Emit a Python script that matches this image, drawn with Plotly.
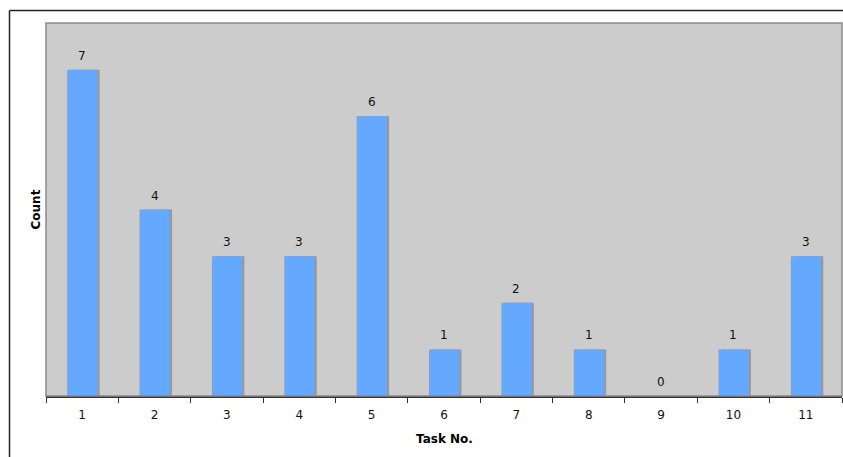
import plotly.graph_objects as go

# Task counts
tasks = ["1", "2", "3", "4", "5", "6", "7", "8", "9", "10", "11"]
counts = [7, 4, 3, 3, 6, 1, 2, 1, 0, 1, 3]

BAR_COLOR = "#64A9FF"
SHADOW_COLOR = "#999999"
PLOT_BG = "#CCCCCC"
FONT = "DejaVu Sans"

W, H = 843, 457
ML, MR, MT, MB = 46, 1, 23, 61
plot_w = W - ML - MR
plot_h = H - MT - MB

bar_w = 0.414
shadow_dx = 2.5 / (plot_w / len(tasks))

fig = go.Figure()

# drop shadow behind each bar
fig.add_trace(go.Bar(
    x=tasks, y=counts,
    width=bar_w, offset=-bar_w / 2 + shadow_dx,
    marker=dict(color=SHADOW_COLOR, line=dict(width=0)),
    hoverinfo="skip", showlegend=False,
))
fig.add_trace(go.Bar(
    x=tasks, y=counts,
    width=bar_w, offset=-bar_w / 2,
    marker=dict(color=BAR_COLOR, line=dict(width=0)),
    showlegend=False,
))

# value labels above the bars (category axis: position by index)
annotations = [
    dict(x=i, y=c, xref="x", yref="y", text=str(c), showarrow=False,
         yshift=14, font=dict(family=FONT, size=12, color="#111111"))
    for i, c in enumerate(counts)
]

# axis titles
annotations.append(dict(
    x=0.5, y=-(439 - (MT + plot_h)) / plot_h, xref="paper", yref="paper",
    text="<b>Task No.</b>", showarrow=False,
    font=dict(family=FONT, size=12, color="#000000"),
    xanchor="center", yanchor="middle",
))
annotations.append(dict(
    x=-(ML - 35) / plot_w, y=0.5, xref="paper", yref="paper",
    text="<b>Count</b>", showarrow=False, textangle=-90,
    font=dict(family=FONT, size=12, color="#000000"),
    xanchor="center", yanchor="middle",
))

def px_x(p):
    return (p - ML) / plot_w

def px_y(p):
    return (MT + plot_h - p) / plot_h

shapes = [
    # plot area frame
    dict(type="rect", xref="paper", yref="paper", x0=0, x1=1, y0=0, y1=1,
         line=dict(color="#8A8A8A", width=1.5), layer="above"),
    # outer frame (top and left edges)
    dict(type="line", xref="paper", yref="paper",
         x0=px_x(9.5), x1=px_x(W + 5), y0=px_y(10.5), y1=px_y(10.5),
         line=dict(color="#222222", width=1.5)),
    dict(type="line", xref="paper", yref="paper",
         x0=px_x(9.5), x1=px_x(9.5), y0=px_y(10.5), y1=px_y(H + 5),
         line=dict(color="#222222", width=1.5)),
]

fig.update_layout(
    width=W, height=H,
    margin=dict(l=ML, r=MR, t=MT, b=MB, pad=0),
    paper_bgcolor="white",
    plot_bgcolor=PLOT_BG,
    barmode="overlay",
    annotations=annotations,
    shapes=shapes,
    font=dict(family=FONT, size=12, color="#111111"),
)
fig.update_xaxes(
    type="category",
    range=[-0.5, len(tasks) - 0.5],
    tickson="boundaries",
    ticks="outside", ticklen=5, tickcolor="#333333", tickwidth=1,
    showline=True, linecolor="#333333", linewidth=1.5,
    showgrid=False, zeroline=False,
    ticklabelstandoff=7,
    tickfont=dict(family=FONT, size=12, color="#111111"),
)
fig.update_yaxes(
    range=[0, 8],
    showticklabels=False, ticks="",
    showgrid=False, zeroline=False, showline=False,
)

fig.write_html("out.html")
